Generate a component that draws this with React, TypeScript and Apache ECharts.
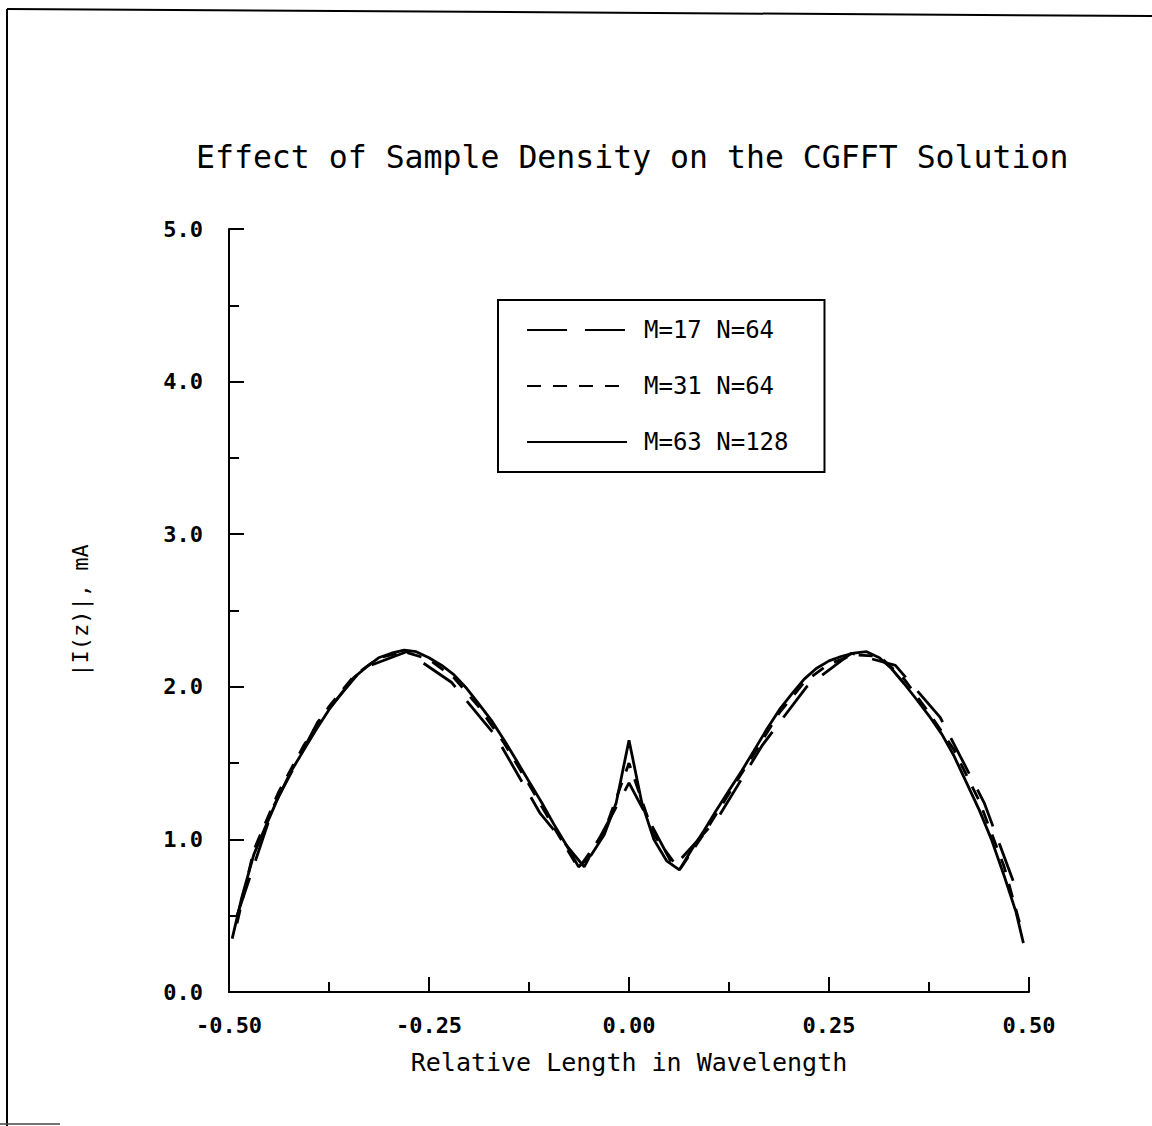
import React, { useEffect, useRef } from "react";
import * as echarts from "echarts";

const titleText = "Effect of Sample Density on the CGFFT Solution";
const xAxisName = "Relative Length in Wavelength";
const yAxisName = "|I(z)|, mA";
const seriesNames = ["M=17 N=64", "M=31 N=64", "M=63 N=128"];

// M=63 N=128 (solid)
const x63 = [
  -0.496, -0.484, -0.469, -0.453, -0.438, -0.422, -0.406, -0.391, -0.375, -0.359,
  -0.344, -0.328, -0.313, -0.297, -0.281, -0.266, -0.25, -0.234, -0.219, -0.203,
  -0.188, -0.172, -0.156, -0.141, -0.125, -0.109, -0.094, -0.078, -0.063, -0.047,
  -0.031, -0.016, 0, 0.016, 0.031, 0.047, 0.063, 0.078, 0.094, 0.109,
  0.125, 0.141, 0.156, 0.172, 0.188, 0.203, 0.219, 0.234, 0.25, 0.266,
  0.281, 0.297, 0.313, 0.328, 0.344, 0.359, 0.375, 0.391, 0.406, 0.422,
  0.438, 0.453, 0.469, 0.484, 0.493,
];
const y63 = [
  0.35, 0.62, 0.9, 1.1, 1.28, 1.45, 1.59, 1.72, 1.85, 1.96,
  2.06, 2.13, 2.19, 2.22, 2.24, 2.23, 2.19, 2.14, 2.08, 1.99,
  1.89, 1.78, 1.65, 1.52, 1.38, 1.24, 1.1, 0.96, 0.82, 0.9,
  1.03, 1.24, 1.65, 1.24, 1.0, 0.86, 0.8, 0.93, 1.06, 1.19,
  1.32, 1.45, 1.58, 1.72, 1.85, 1.95, 2.05, 2.12, 2.17, 2.2,
  2.22, 2.23, 2.19, 2.12, 2.02, 1.92, 1.81, 1.69, 1.55, 1.37,
  1.19, 1.0, 0.76, 0.52, 0.32,
];

// M=31 N=64 (short dash)
const x31 = [
  -0.49, -0.469, -0.438, -0.406, -0.375, -0.344, -0.313, -0.281, -0.25, -0.219,
  -0.188, -0.156, -0.125, -0.094, -0.063, -0.031, 0, 0.031, 0.063, 0.094,
  0.125, 0.156, 0.188, 0.219, 0.25, 0.281, 0.313, 0.344, 0.375, 0.406,
  0.438, 0.469, 0.49,
];
const y31 = [
  0.45, 0.93, 1.31, 1.62, 1.87, 2.07, 2.19, 2.23, 2.18, 2.06,
  1.87, 1.63, 1.36, 1.08, 0.81, 1.05, 1.5, 1.03, 0.8, 1.04,
  1.3, 1.56, 1.83, 2.03, 2.15, 2.21, 2.2, 2.05, 1.83, 1.59,
  1.25, 0.82, 0.42,
];

// M=17 N=64 (long dash)
const x17 = [
  -0.49, -0.444, -0.389, -0.333, -0.278, -0.222, -0.167, -0.111, -0.056, 0,
  0.056, 0.111, 0.167, 0.222, 0.278, 0.333, 0.389, 0.444, 0.485,
];
const y17 = [
  0.5, 1.22, 1.77, 2.12, 2.23, 2.03, 1.68, 1.17, 0.82, 1.37,
  0.82, 1.14, 1.62, 2.0, 2.22, 2.14, 1.8, 1.24, 0.66,
];

const pairs = (xs: number[], ys: number[]) => xs.map((x, i) => [x, ys[i]]);

const MONO = "DejaVu Sans Mono";

export default function App() {
  const ref = useRef<HTMLDivElement>(null);
  useEffect(() => {
    document.body.style.margin = "0";
    const chart = echarts.init(ref.current!, null, { renderer: "svg" });
    const lineBase = { type: "line", showSymbol: false, symbol: "none", smooth: false };
    chart.setOption({
      animation: false,
      backgroundColor: "#ffffff",
      title: {
        text: titleText,
        left: 196,
        top: 141,
        padding: 0,
        textStyle: { fontFamily: MONO, fontSize: 31.5, fontWeight: "normal", color: "#000" },
      },
      grid: { left: 229, right: 123, top: 229, bottom: 134 },
      legend: {
        orient: "vertical",
        left: 498,
        top: 300,
        data: seriesNames,
        borderColor: "#000",
        borderWidth: 2,
        padding: [18, 36, 18, 28],
        itemWidth: 100,
        itemHeight: 14,
        itemGap: 32,
        itemStyle: { opacity: 0 },
        textStyle: { fontFamily: MONO, fontSize: 24, color: "#000", padding: [0, 0, 0, 12] },
        inactiveColor: "#000",
      },
      xAxis: {
        type: "value",
        min: -0.5,
        max: 0.5,
        interval: 0.25,
        name: xAxisName,
        nameLocation: "middle",
        nameGap: 58,
        nameTextStyle: { fontFamily: MONO, fontSize: 25, color: "#000" },
        axisLine: { onZero: false, lineStyle: { color: "#000", width: 2 } },
        axisTick: { inside: true, length: 15, lineStyle: { color: "#000", width: 2 } },
        minorTick: { show: true, splitNumber: 2, length: 10, lineStyle: { color: "#000", width: 2 } },
        splitLine: { show: false },
        axisLabel: {
          formatter: (v: number) => v.toFixed(2),
          margin: 22,
          fontFamily: MONO,
          fontSize: 22,
          fontWeight: "bold",
          color: "#000",
        },
      },
      yAxis: {
        type: "value",
        min: 0,
        max: 5,
        interval: 1,
        name: yAxisName,
        nameLocation: "middle",
        nameGap: 138,
        nameTextStyle: { fontFamily: MONO, fontSize: 22, color: "#000" },
        axisLine: { show: true, onZero: false, lineStyle: { color: "#000", width: 2 } },
        axisTick: { show: true, inside: true, length: 15, lineStyle: { color: "#000", width: 2 } },
        minorTick: { show: true, splitNumber: 2, length: 10, lineStyle: { color: "#000", width: 2 } },
        splitLine: { show: false },
        axisLabel: {
          formatter: (v: number) => v.toFixed(1),
          margin: 26,
          fontFamily: MONO,
          fontSize: 22,
          fontWeight: "bold",
          color: "#000",
        },
      },
      series: [
        {
          ...lineBase,
          name: seriesNames[0],
          data: pairs(x17, y17),
          lineStyle: { color: "#000", width: 2.8, type: [40, 18] },
          itemStyle: { color: "#000" },
        },
        {
          ...lineBase,
          name: seriesNames[1],
          data: pairs(x31, y31),
          lineStyle: { color: "#000", width: 2.8, type: [14, 12] },
          itemStyle: { color: "#000" },
        },
        {
          ...lineBase,
          name: seriesNames[2],
          data: pairs(x63, y63),
          lineStyle: { color: "#000", width: 2.8, type: "solid" },
          itemStyle: { color: "#000" },
        },
      ],
      graphic: [
        { type: "line", shape: { x1: 7, y1: 9, x2: 1152, y2: 16 }, style: { stroke: "#000", lineWidth: 2 } },
        { type: "line", shape: { x1: 7, y1: 9, x2: 7, y2: 1126 }, style: { stroke: "#000", lineWidth: 2 } },
        { type: "line", shape: { x1: 0, y1: 1124, x2: 60, y2: 1124 }, style: { stroke: "#444", lineWidth: 1.5 } },
      ],
    });
    return () => chart.dispose();
  }, []);
  return <div ref={ref} style={{ width: 1152, height: 1126 }} />;
}
